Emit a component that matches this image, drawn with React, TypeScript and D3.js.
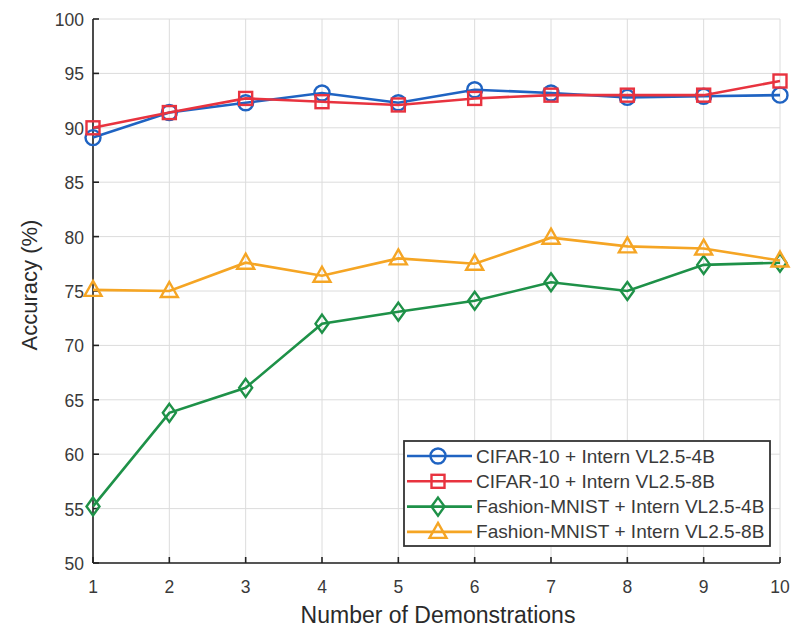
import * as d3 from "d3";

const demos = [1, 2, 3, 4, 5, 6, 7, 8, 9, 10];
const cifar4B = [89.1, 91.4, 92.3, 93.2, 92.3, 93.5, 93.2, 92.8, 92.9, 93.0];
const cifar8B = [90.0, 91.4, 92.7, 92.4, 92.1, 92.7, 93.0, 93.0, 93.0, 94.3];
const fashion4B = [55.2, 63.8, 66.1, 72.0, 73.1, 74.1, 75.8, 75.0, 77.4, 77.6];
const fashion8B = [75.1, 75.0, 77.6, 76.4, 78.0, 77.5, 79.9, 79.1, 78.9, 77.8];
const yTicks = [50, 55, 60, 65, 70, 75, 80, 85, 90, 95, 100];

const series = [
  { name: "CIFAR-10 + Intern VL2.5-4B", values: cifar4B, color: "#1f63c2", marker: "circle" },
  { name: "CIFAR-10 + Intern VL2.5-8B", values: cifar8B, color: "#e8333f", marker: "square" },
  { name: "Fashion-MNIST + Intern VL2.5-4B", values: fashion4B, color: "#1e9148", marker: "diamond" },
  { name: "Fashion-MNIST + Intern VL2.5-8B", values: fashion8B, color: "#f5a524", marker: "triangle" },
];

const width = 795;
const height = 627;
const marginLeft = 93;
const marginRight = 15;
const marginTop = 19;
const marginBottom = 64;

const Marker = ({ type, x, y, color }: { type: string; x: number; y: number; color: string }) => {
  const common = { fill: "none", stroke: color, strokeWidth: 2.4 };
  if (type === "circle") return <circle cx={x} cy={y} r={7.5} {...common} />;
  if (type === "square") return <rect x={x - 6.5} y={y - 6.5} width={13} height={13} {...common} />;
  if (type === "diamond")
    return <path d={`M${x},${y - 9} L${x + 6.5},${y} L${x},${y + 9} L${x - 6.5},${y} Z`} {...common} />;
  return <path d={`M${x},${y - 9} L${x + 8.5},${y + 6} L${x - 8.5},${y + 6} Z`} {...common} />;
};

export default function App() {
  const chartBottomY = height - marginBottom;
  const xScale = d3.scaleLinear().domain([1, 10]).range([marginLeft, width - marginRight]);
  const yScale = d3.scaleLinear().domain([50, 100]).range([chartBottomY, marginTop]);

  const line = d3
    .line<number>()
    .x((_, i) => xScale(demos[i]))
    .y((v) => yScale(v));

  const font = "'Liberation Sans', Arial, sans-serif";
  const legendX = 404;
  const legendY = 441;
  const legendW = 366;
  const legendH = 105;
  const rowH = 25.3;

  return (
    <svg width={width} height={height} style={{ position: "absolute", left: 0, top: 0, background: "#fff" }} fontFamily={font}>
      {/* grid */}
      <g stroke="#dcdcdc" strokeWidth={1}>
        {yTicks.map((t) => (
          <line key={"gy" + t} x1={marginLeft} x2={width - marginRight} y1={yScale(t)} y2={yScale(t)} />
        ))}
        {demos.map((d) => (
          <line key={"gx" + d} x1={xScale(d)} x2={xScale(d)} y1={marginTop} y2={chartBottomY} />
        ))}
      </g>
      {/* axes */}
      <g stroke="#222" strokeWidth={1.6}>
        <line x1={marginLeft} x2={marginLeft} y1={marginTop} y2={chartBottomY} />
        <line x1={marginLeft} x2={width - marginRight} y1={chartBottomY} y2={chartBottomY} />
        {yTicks.map((t) => (
          <line key={"ty" + t} x1={marginLeft} x2={marginLeft + 6} y1={yScale(t)} y2={yScale(t)} />
        ))}
        {demos.map((d) => (
          <line key={"tx" + d} x1={xScale(d)} x2={xScale(d)} y1={chartBottomY} y2={chartBottomY - 6} />
        ))}
      </g>
      <g fontSize={17.5} fill="#3a3a3a">
        {yTicks.map((t) => (
          <text key={"ly" + t} x={marginLeft - 9} y={yScale(t) + 7} textAnchor="end">
            {t}
          </text>
        ))}
        {demos.map((d) => (
          <text key={"lx" + d} x={xScale(d)} y={chartBottomY + 30} textAnchor="middle">
            {d}
          </text>
        ))}
      </g>
      <text x={438} y={623} textAnchor="middle" fontSize={23} fill="#2a2a2a">
        Number of Demonstrations
      </text>
      <text transform={`translate(37,285) rotate(-90)`} textAnchor="middle" fontSize={22} fill="#2a2a2a">
        Accuracy (%)
      </text>
      {/* series */}
      {series.map((s) => (
        <g key={s.name}>
          <path d={line(s.values) || ""} fill="none" stroke={s.color} strokeWidth={2.6} />
          {s.values.map((v, i) => (
            <Marker key={i} type={s.marker} x={xScale(demos[i])} y={yScale(v)} color={s.color} />
          ))}
        </g>
      ))}
      {/* legend */}
      <rect x={legendX} y={legendY} width={legendW} height={legendH} fill="#fff" stroke="#333" strokeWidth={1.8} />
      {series.map((s, i) => {
        const cy = legendY + 15 + i * rowH;
        return (
          <g key={"lg" + s.name}>
            <line x1={legendX + 3} x2={legendX + 68} y1={cy} y2={cy} stroke={s.color} strokeWidth={2.6} />
            <Marker type={s.marker} x={legendX + 34} y={cy} color={s.color} />
            <text transform={`translate(${legendX + 72},${cy + 6.5}) scale(1.06,1)`} fontSize={18} fill="#3a3a3a">
              {s.name}
            </text>
          </g>
        );
      })}
    </svg>
  );
}
